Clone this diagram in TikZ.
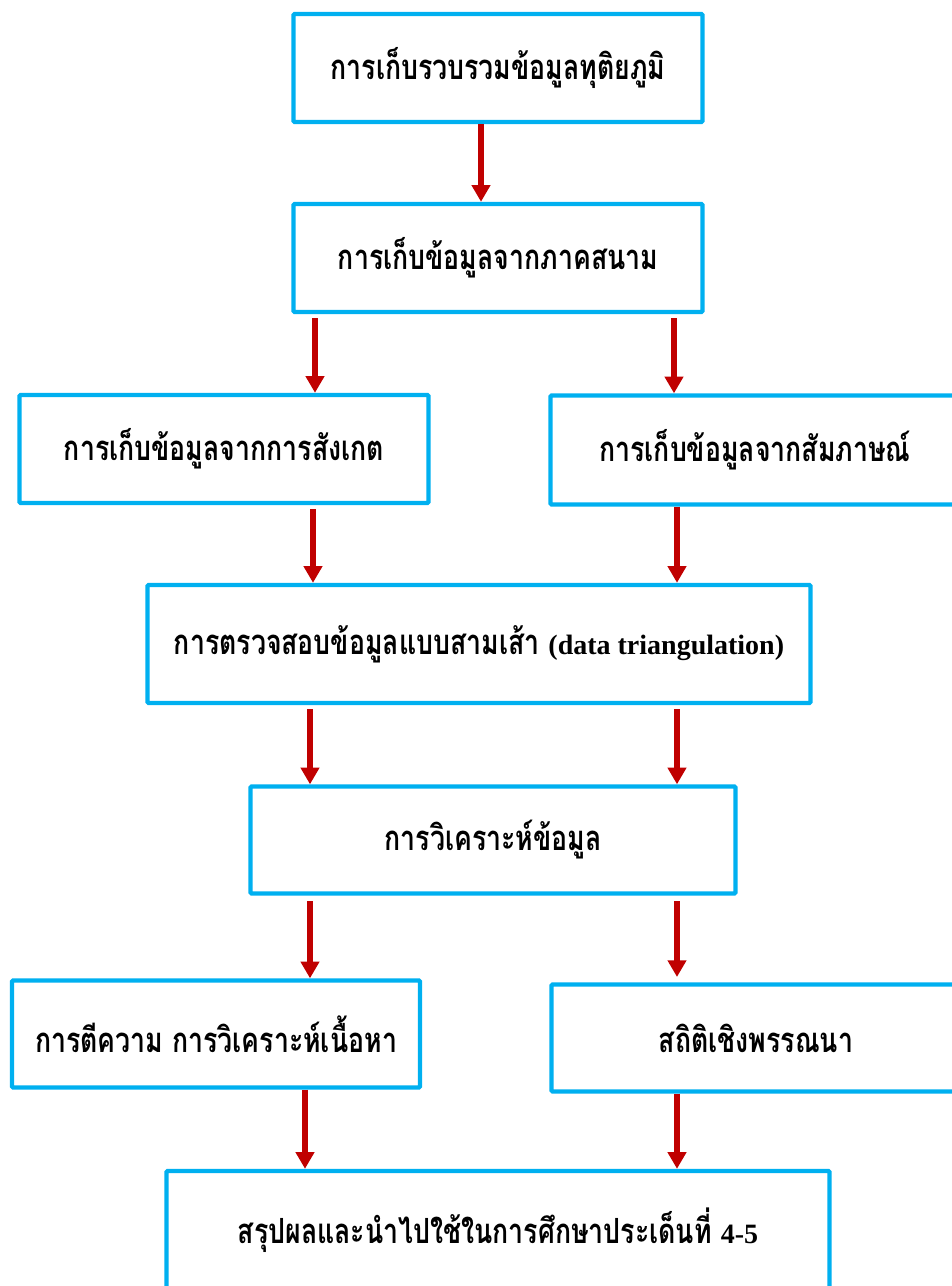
\documentclass[tikz,border=0pt]{standalone}
\usepackage{fontspec}
\setmainfont{Liberation Serif}
\newfontfamily\thaifont[Script=Thai,FakeStretch=0.77]{Loma}
\newcommand\latin[1]{{\rmfamily\fontsize{21}{24}\selectfont #1}}
\usetikzlibrary{arrows.meta}
\definecolor{boxblue}{HTML}{00B0F0}
\definecolor{arrowred}{HTML}{C00000}

\begin{document}
\begin{tikzpicture}[x=0.75pt,y=-0.75pt,
  box/.style={draw=boxblue,line width=3.3pt,rounded corners=1pt,inner sep=0pt,fill=white,
    font=\bfseries\fontsize{26}{30}\selectfont\thaifont},
  size/.style 2 args={minimum width=#1*0.75pt,minimum height=#2*0.75pt},
  flow/.style={->,>={Triangle[width=13.5pt,length=12.5pt]},draw=arrowred,line width=4.2pt}]
  \useasboundingbox[fill=white] (0,0) rectangle (952,1286);

  % boxes (px coordinates, y down)
  \node[box,size={409}{108}] (secondary) at (498,68) {การเก็บรวบรวมข้อมูลทุติยภูมิ};
  \node[box,size={409}{108}] (field) at (498,258) {การเก็บข้อมูลจากภาคสนาม};
  \node[box,size={409}{108}] (observe) at (224,449) {การเก็บข้อมูลจากการสังเกต};
  \node[box,size={409}{109}] (interview) at (755,450) {การเก็บข้อมูลจากสัมภาษณ์};
  \node[box,size={663}{118}] (triang) at (479,644) {การตรวจสอบข้อมูลแบบสามเส้า \latin{(data triangulation)}};
  \node[box,size={485}{107}] (analysis) at (493,840) {การวิเคราะห์ข้อมูล};
  \node[box,size={408}{107}] (interpret) at (216,1034) {การตีความ การวิเคราะห์เนื้อหา};
  \node[box,size={409}{107}] (stats) at (756,1038) {สถิติเชิงพรรณนา};
  \node[box,size={663}{118}] (conclude) at (498,1230) {สรุปผลและนำไปใช้ในการศึกษาประเด็นที่ \latin{4-5}};

  % arrows
  \draw[flow] (secondary.south -| 481,0) -- (field.north -| 481,0);
  \draw[flow,shorten <=3pt] (field.south -| 315,0) -- (observe.north -| 315,0);
  \draw[flow,shorten <=3pt] (field.south -| 674,0) -- (interview.north -| 674,0);
  \draw[flow,shorten <=3pt] (observe.south -| 313,0) -- (triang.north -| 313,0);
  \draw[flow] (interview.south -| 677,0) -- (triang.north -| 677,0);
  \draw[flow,shorten <=3pt] (triang.south -| 310,0) -- (analysis.north -| 310,0);
  \draw[flow,shorten <=3pt] (triang.south -| 677,0) -- (analysis.north -| 677,0);
  \draw[flow,shorten <=4pt] (analysis.south -| 310,0) -- (interpret.north -| 310,0);
  \draw[flow,shorten <=4pt,shorten >=4pt] (analysis.south -| 677,0) -- (stats.north -| 677,0);
  \draw[flow] (interpret.south -| 305,0) -- (conclude.north -| 305,0);
  \draw[flow] (stats.south -| 677,0) -- (conclude.north -| 677,0);
\end{tikzpicture}
\end{document}
